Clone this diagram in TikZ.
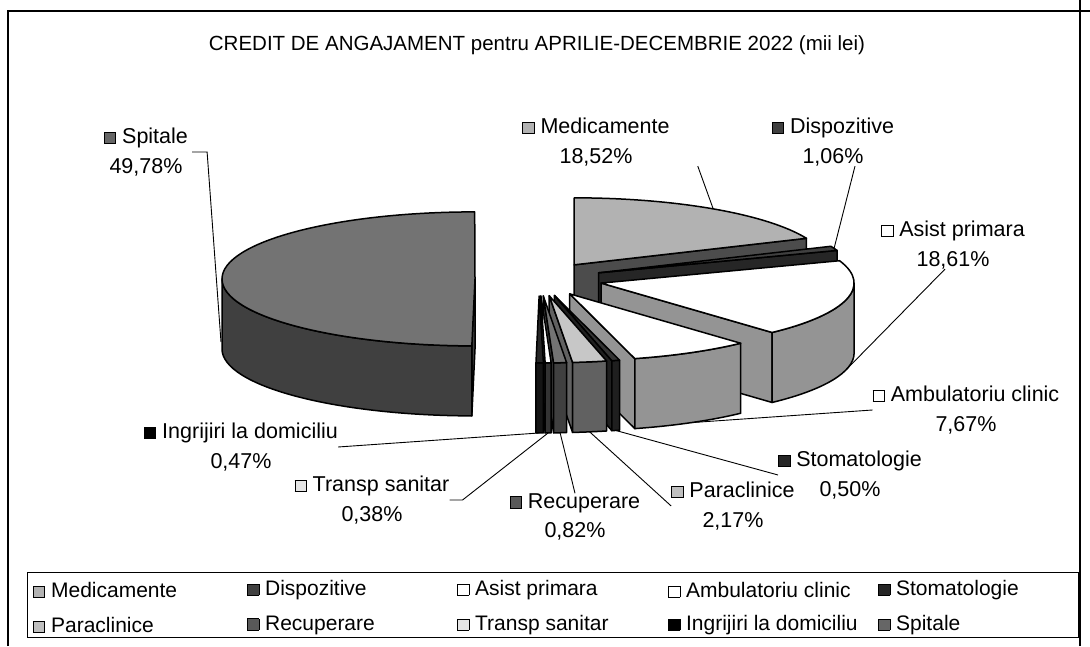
\documentclass[tikz,border=0pt]{standalone}
\usepackage{fontspec}
\setmainfont{Liberation Sans}
\newcommand\lgkey[1]{{\setlength\fboxsep{0pt}\setlength\fboxrule{0.8pt}\raisebox{0.5pt}{\fcolorbox{black}{#1}{\rule{0pt}{10.5pt}\hspace{10.5pt}}}}}
\newcommand\pieslice[5]{%
 \pgfmathsetmacro\psM{(#1+#2)/2}%
 \pgfmathsetmacro\psX{539+64*cos(\psM)}%
 \pgfmathsetmacro\psY{367+64*67/253*sin(\psM)}%
 \pgfmathsetmacro\psCa{cos(#1)}%
 \pgfmathsetmacro\psCb{cos(#2)}%
 \pgfmathsetmacro\psTa{max(#2,-180)}%
 \pgfmathsetmacro\psTb{min(#1,0)}%
 \pgfmathsetmacro\psSm{sin(\psM)}%
 \ifdim\psCa pt<0pt
   \filldraw[pieedge, fill=#4] (\psX,\psY) -- ({\psX+253*cos(#1)},{\psY+67*sin(#1)}) -- ++(0,-70) -- ({\psX},{\psY-70}) -- cycle;
 \fi
 \ifdim\psCb pt>0pt
   \filldraw[pieedge, fill=#4] (\psX,\psY) -- ({\psX+253*cos(#2)},{\psY+67*sin(#2)}) -- ++(0,-70) -- ({\psX},{\psY-70}) -- cycle;
 \fi
 \ifdim\psTa pt<\psTb pt
   \filldraw[pieedge, fill=#4] ({\psX+253*cos(\psTa)},{\psY+67*sin(\psTa)}) arc[start angle=\psTa, end angle=\psTb, x radius=253, y radius=67] -- ++(0,-70) arc[start angle=\psTb, end angle=\psTa, x radius=253, y radius=67] -- cycle;
 \fi
 \filldraw[pieedge, fill=#3] (\psX,\psY) -- ({\psX+253*cos(#2)},{\psY+67*sin(#2)}) arc[start angle=#2, end angle=#1, x radius=253, y radius=67] -- cycle;
 \ifdim\psSm pt<0pt
   \coordinate (#5) at ({\psX+253*cos(\psM)},{\psY+67*sin(\psM)-70});
 \else
   \coordinate (#5) at ({\psX+253*cos(\psM)},{\psY+67*sin(\psM)});
 \fi
}
\begin{document}
\begin{tikzpicture}[x=1pt,y=1pt,
  pieedge/.style={draw=black, line width=1.5pt, line join=round},
  lbl/.style={font=\fontsize{21.5}{29.5}\selectfont, align=center, inner sep=0pt},
  lgd/.style={font=\fontsize{21}{25}\selectfont, anchor=west, inner sep=0pt},
  leader/.style={draw=black, line width=0.9pt},
  frame/.style={draw=black, line width=1.3pt}]
\useasboundingbox (0,0) rectangle (1090,646);
\fill[white] (0,0) rectangle (1090,646);
% outer frame
\draw[frame] (8,0) -- (8,635) -- (1090,635);
\draw[frame] (1080,0) -- (1080,646);
% title
\node[font=\fontsize{20.5}{24}\selectfont, inner sep=0pt] (title) at (537,601) {CREDIT DE ANGAJAMENT pentru APRILIE-DECEMBRIE 2022 (mii lei)};
% pie slices (back to front)
\pieslice{-90.72}{-269.928}{black!55}{black!75}{tipSpitTop}
\coordinate (tipSpit) at (221,304);
\pieslice{90}{23.328}{black!30}{black!70}{tipMed}
\pieslice{23.328}{19.512}{black!75}{black!85}{tipDisp}
\pieslice{19.512}{-47.484}{white}{black!42}{tipAsist}
\pieslice{-47.484}{-75.096}{white}{black!42}{tipAmb}
\pieslice{-75.096}{-76.896}{black!80}{black!88}{tipStom}
\pieslice{-76.896}{-84.708}{black!22}{black!62}{tipPara}
\pieslice{-84.708}{-87.66}{black!55}{black!75}{tipRec}
\pieslice{-87.66}{-89.028}{white}{black!80}{tipTransp}
\pieslice{-89.028}{-90.72}{black!85}{black!92}{tipIng}
% labels
\node[lbl] (lblSpit) at (146,494) {\lgkey{black!60} Spitale\\49,78\%};
\node[lbl] (lblMed) at (596,504) {\lgkey{black!30} Medicamente\\18,52\%};
\node[lbl] (lblDisp) at (833,504) {\lgkey{black!75} Dispozitive\\1,06\%};
\node[lbl] (lblAsist) at (953,401) {\lgkey{white} Asist primara\\18,61\%};
\node[lbl] (lblAmb) at (966,236) {\lgkey{white} Ambulatoriu clinic\\7,67\%};
\node[lbl] (lblStom) at (850,171) {\lgkey{black!85} Stomatologie\\0,50\%};
\node[lbl] (lblPara) at (733,140) {\lgkey{black!25} Paraclinice\\2,17\%};
\node[lbl] (lblRec) at (575,129) {\lgkey{black!65} Recuperare\\0,82\%};
\node[lbl] (lblTransp) at (372,146) {\lgkey{black!10} Transp sanitar\\0,38\%};
\node[lbl] (lblIng) at (241,199) {\lgkey{black} Ingrijiri la domiciliu\\0,47\%};
% leaders
\draw[leader] ([xshift=4pt]lblSpit.east) -- ++(15,0) -- (tipSpit);
\draw[leader] ([xshift=28pt]lblMed.south east) -- (tipMed);
\draw[leader] ([xshift=22pt]lblDisp.south) -- (tipDisp);
\draw[leader] ([xshift=-8pt]lblAsist.south) -- (tipAsist);
\draw[leader] (lblAmb.west) -- (tipAmb);
\draw[leader] (lblStom.west) -- (tipStom);
\draw[leader] (lblPara.west) -- (tipPara);
\draw[leader] (lblRec.north) -- (tipRec);
\draw[leader] (lblTransp.east) -- ++(13,0) -- (tipTransp);
\draw[leader] (lblIng.east) -- (tipIng);
% legend
\draw[black, line width=0.9pt] (27,9) rectangle (1078,74);
\node[lgd] (lgMed) at (33,56) {\lgkey{black!30} Medicamente};
\node[lgd] (lgDisp) at (247,56) {\lgkey{black!75} Dispozitive};
\node[lgd] (lgAsist) at (457,56) {\lgkey{white} Asist primara};
\node[lgd] (lgAmb) at (668,56) {\lgkey{white} Ambulatoriu clinic};
\node[lgd] (lgStom) at (878,56) {\lgkey{black!85} Stomatologie};
\node[lgd] (lgPara) at (33,21) {\lgkey{black!25} Paraclinice};
\node[lgd] (lgRec) at (247,21) {\lgkey{black!65} Recuperare};
\node[lgd] (lgTransp) at (457,21) {\lgkey{black!10} Transp sanitar};
\node[lgd] (lgIng) at (668,21) {\lgkey{black} Ingrijiri la domiciliu};
\node[lgd] (lgSpit) at (878,21) {\lgkey{black!60} Spitale};
\end{tikzpicture}
\end{document}
